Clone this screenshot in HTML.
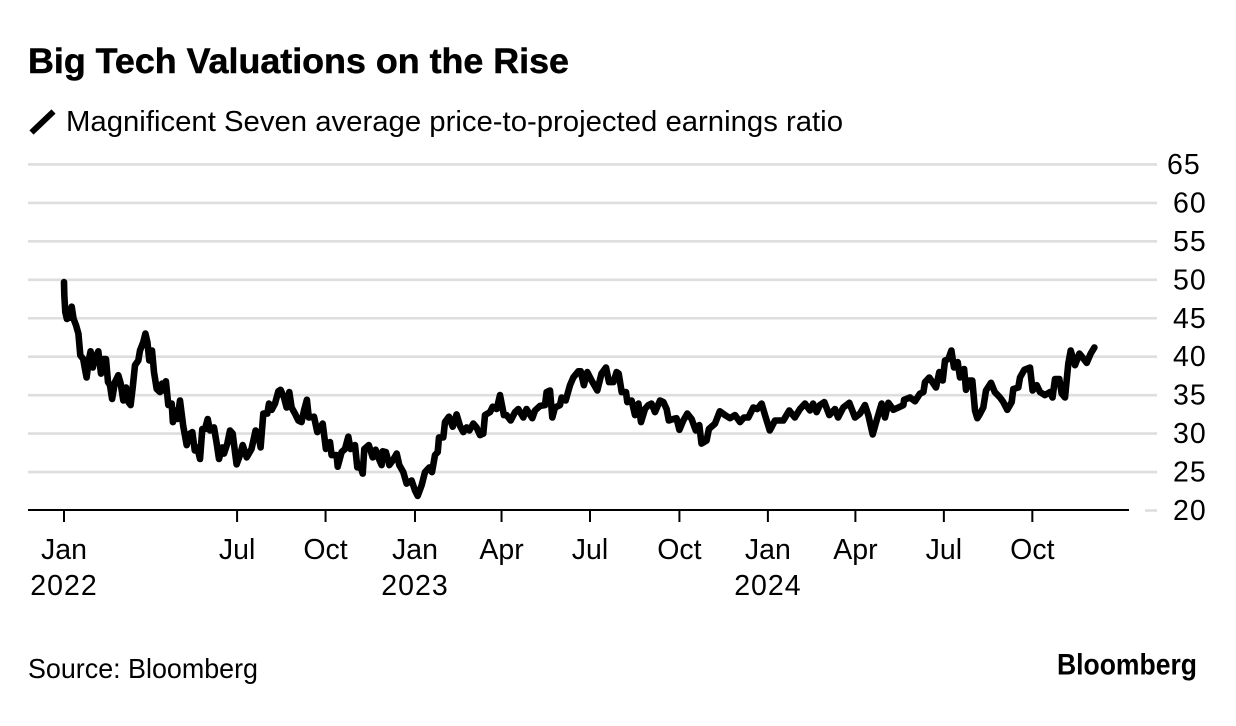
<!DOCTYPE html>
<html lang="en">
<head>
<meta charset="utf-8">
<title>Big Tech Valuations on the Rise</title>
<style>
html,body{margin:0;padding:0;background:#fff;}
svg{display:block;font-family:"Liberation Sans",Arial,sans-serif;fill:#000;}
</style>
</head>
<body>
<svg id="chart" xmlns="http://www.w3.org/2000/svg" width="1236" height="726" viewBox="0 0 1236 726">
<rect x="0" y="0" width="1236" height="726" fill="#fff"/>
<text x="28" y="73" font-size="35.5" font-weight="700" stroke="#000" stroke-width="0.5" textLength="541" lengthAdjust="spacingAndGlyphs">Big Tech Valuations on the Rise</text>
<line x1="31.5" y1="132.5" x2="53.5" y2="111.5" stroke="#000" stroke-width="6"/>
<text x="66" y="131" font-size="28.5" textLength="777" lengthAdjust="spacingAndGlyphs">Magnificent Seven average price-to-projected earnings ratio</text>
<g id="grid"></g>
<g id="yticks"></g>
<g id="xaxis"></g>
<path id="series" fill="none" stroke="#000" stroke-width="6.6" stroke-linejoin="round" stroke-linecap="round"/>
<text x="28" y="678" font-size="27.5" textLength="230" lengthAdjust="spacingAndGlyphs">Source: Bloomberg</text>
<text x="1057" y="674.5" font-size="30" font-weight="700" textLength="140" lengthAdjust="spacingAndGlyphs">Bloomberg</text>
</svg>
<script>
const yTickValues = [20,25,30,35,40,45,50,55,60,65];
const xTickDays = [0,180,272,365,455,547,640,732,823,915,1007];
const xTickMonths = ["Jan","Jul","Oct","Jan","Apr","Jul","Oct","Jan","Apr","Jul","Oct"];
const xTickYears = ["2022","","","2023","","","","2024","","",""];
const days = [0,0.3,1.4,3,5.5,8,10,12.5,15,17,20,21.5,23.5,26,27.7,30,32,35.7,38.5,41,43.7,45.8,47.8,50,53,56.5,59,61.7,64.5,67,69.3,71.4,73.8,77.3,79,82.5,84.6,86.7,88.7,91.5,93.6,96.4,99.8,102,104,106,108.5,112,113.3,115.8,117.9,120.6,124,127.6,131,133.4,136,138.6,141.4,143.8,146.6,149.4,151.8,156,158.8,161.2,164.6,166.4,169.8,172.6,175.4,177.8,179.5,183,185.8,190,195,199.3,202,204.5,207.3,211.4,213.2,216,219.4,222.9,225.3,228.8,231.5,234.3,236.7,240.2,243.7,247,249.6,252.6,254.6,260,263.4,269,272.4,276.6,278.3,283.5,284.6,288.7,292.2,295.7,298,302.6,305,307.8,310.6,312.3,317,321,324,326.9,330.3,331.4,334.8,338.3,341.8,346,348.7,352.9,356.3,361.5,365,367.8,372,375.4,380,382.7,385.8,388.6,390,394.4,396.2,400.3,404.2,408.3,411.8,415.2,418.7,421.5,425.6,429,432.6,436,437.8,443,445.8,450,453.4,457.5,460.3,464.5,469,472.4,477.6,481,487,489.8,495,500.2,501.9,505.4,507.8,510.6,515.8,517.5,521.7,526.2,529.6,534.8,537.3,540.7,544.2,548.7,554.6,559,563.6,566.8,571.3,574.7,576.8,580,584.4,585.8,590.3,593.8,597.3,600,604.2,607.7,611,614.6,619.8,623.3,626.7,629,633.7,637,640,644,648.2,652.7,657,660.7,663,668.3,670.7,677,682,687.4,692.6,697.8,703,707,711.6,716.8,721,725.5,729,734,739.4,748,754.3,760,765.4,770.6,775.8,779,782.7,786,790.7,795.9,801.8,805,810.4,816.7,822.6,827.8,833,836.4,841,845,850.3,853.8,857.3,862.5,867.7,872.9,873.6,879.8,885,890.2,893.7,895.4,899.9,906.8,910.3,913.8,916.2,919.7,922.8,925.5,929.4,931.8,936,938,941.5,944.6,947.4,949.8,951.9,956,958.8,964,968,973.4,976.8,981,985.5,987.2,992.4,994.2,998.7,1004.6,1007.3,1011.5,1015,1020,1025.4,1028,1030.6,1035,1037.5,1041,1044.4,1046.9,1051.4,1055.9,1059.3,1063.5,1067.7,1071.5];
const peValues = [49.7,48,45.8,44.9,45.1,46.5,44.9,44.1,43,40.2,39.7,38.6,37.3,39.7,40.7,38.6,39.7,40.7,37.8,39.7,39.7,36.7,36.3,34.5,36.7,37.6,36.5,34.3,36,34.1,33.7,36,38.9,39.5,40.8,41.9,43,41.9,39.5,40.8,38,35.8,35.4,36.5,35.6,36.8,33.7,33.9,31.5,33,31.9,34.3,31,28.5,30,30.2,27.8,28.2,26.7,30.6,30.6,31.9,30.4,30.8,28.7,26.7,28.2,27.4,28.7,30.4,30,27.6,26,27.2,28.5,26.9,28,30.4,30,28.2,32.6,32.6,33.9,33.1,33.9,35.5,35.7,34.7,33.4,35.4,33.4,32.6,31.7,31.5,33,34.4,32.1,32.2,30.2,31.3,28,28.9,27.2,27.2,25.7,27.6,28,29.6,28,28.5,25.6,25.9,24.8,28,28.5,26.9,27.9,26.9,25.9,27.7,27.6,25.9,26.5,27.4,25.9,25,23.5,23.9,22.6,21.9,23.3,25,25.6,25,27.2,27.6,29.5,29.5,31.5,32.2,30.9,32.5,31,30.2,30.8,30.4,31.3,30.8,29.8,30,32.4,32.8,33.5,33.2,35,32.4,32.4,31.7,32.8,33.2,32.1,33.2,32,33,33.6,33.7,35.4,35.6,32.1,33.4,33.7,34.7,34.3,36.3,37.3,38.1,38.1,36.3,38,36.9,35.6,37.8,38.6,36.7,36.7,38,37.8,35.4,35.4,34.1,34.3,32.4,33.9,31.5,33.2,33.7,33.9,32.8,34.3,34.1,33.2,31.7,31.9,32,30.5,31.7,32.6,31.9,30.4,31.1,28.7,29.1,30.6,31.3,32.9,32.4,32,32.4,31.5,32.1,32.1,33.4,33.2,33.9,32.4,30.4,31.7,31.7,33,32.1,33.2,33.9,33,33.9,32.8,33.7,34.1,32.4,33.2,32.1,33.4,34,32.1,32.6,33.7,32.4,29.9,31.7,33.9,32.1,34,33.1,33.4,33.7,34.4,34.7,34.2,35.2,35.4,36.7,37.3,36,38,36.9,39.5,39.7,40.8,38.6,39.3,37.3,38.4,35.7,36.9,36.9,33,32,32.4,33.4,35.6,36.6,35.4,34.7,34.1,33.1,34.1,35.8,36,37.3,38.3,38.6,35.6,36.3,35.4,35,35.4,34.7,37.1,37.1,35.2,34.7,39.1,40.8,38.9,40.4,39.9,39.2,40.4,41.2];

const NS = 'http://www.w3.org/2000/svg';
function xScale(d){ return 64 + d * 0.9616; }
function yScale(v){ return 510.5 - (v - 20) * 7.69; }

const grid = document.getElementById('grid');
const yticks = document.getElementById('yticks');
yTickValues.forEach(function(v, i){
  const l = document.createElementNS(NS, 'line');
  
  
  l.setAttribute('x1', v === 20 ? 1145 : 28);
  l.setAttribute('x2', 1157);
  l.setAttribute('y1', yScale(v));
  l.setAttribute('y2', yScale(v));
  l.setAttribute('stroke', '#dedede');
  l.setAttribute('stroke-width', '2.6');
  grid.appendChild(l);
  const t = document.createElementNS(NS, 'text');
  
  
  t.setAttribute('x', i === yTickValues.length - 1 ? 1167 : 1173);
  t.setAttribute('y', yScale(v) + 9.5);
  t.setAttribute('font-size', '28.5');
  t.setAttribute('letter-spacing', '1');
  t.textContent = v;
  yticks.appendChild(t);
});

const xaxis = document.getElementById('xaxis');
const axisLine = document.createElementNS(NS, 'line');


axisLine.setAttribute('x1', 28);
axisLine.setAttribute('x2', 1129);
axisLine.setAttribute('y1', 510);
axisLine.setAttribute('y2', 510);
axisLine.setAttribute('stroke', '#000');
axisLine.setAttribute('stroke-width', '2');
xaxis.appendChild(axisLine);
xTickDays.forEach(function(d, i){
  const x = xScale(d);
  const tk = document.createElementNS(NS, 'line');
  
  
  tk.setAttribute('x1', x);
  tk.setAttribute('x2', x);
  tk.setAttribute('y1', 510);
  tk.setAttribute('y2', 522);
  tk.setAttribute('stroke', '#000');
  tk.setAttribute('stroke-width', '2');
  xaxis.appendChild(tk);
  const m = document.createElementNS(NS, 'text');
  
  
  m.setAttribute('x', x);
  m.setAttribute('y', 559);
  m.setAttribute('font-size', '28.5');
  m.setAttribute('text-anchor', 'middle');
  m.textContent = xTickMonths[i];
  xaxis.appendChild(m);
  if (xTickYears[i]) {
    const y = document.createElementNS(NS, 'text');
    
    
    y.setAttribute('x', x);
    y.setAttribute('y', 595);
    y.setAttribute('font-size', '28.5');
    y.setAttribute('letter-spacing', '1');
    y.setAttribute('text-anchor', 'middle');
    y.textContent = xTickYears[i];
    xaxis.appendChild(y);
  }
});

document.getElementById('series').setAttribute('d', days.map(function(d, i){
  return (i ? 'L' : 'M') + xScale(d).toFixed(1) + ' ' + yScale(peValues[i]).toFixed(1);
}).join(''));
</script>
</body>
</html>
